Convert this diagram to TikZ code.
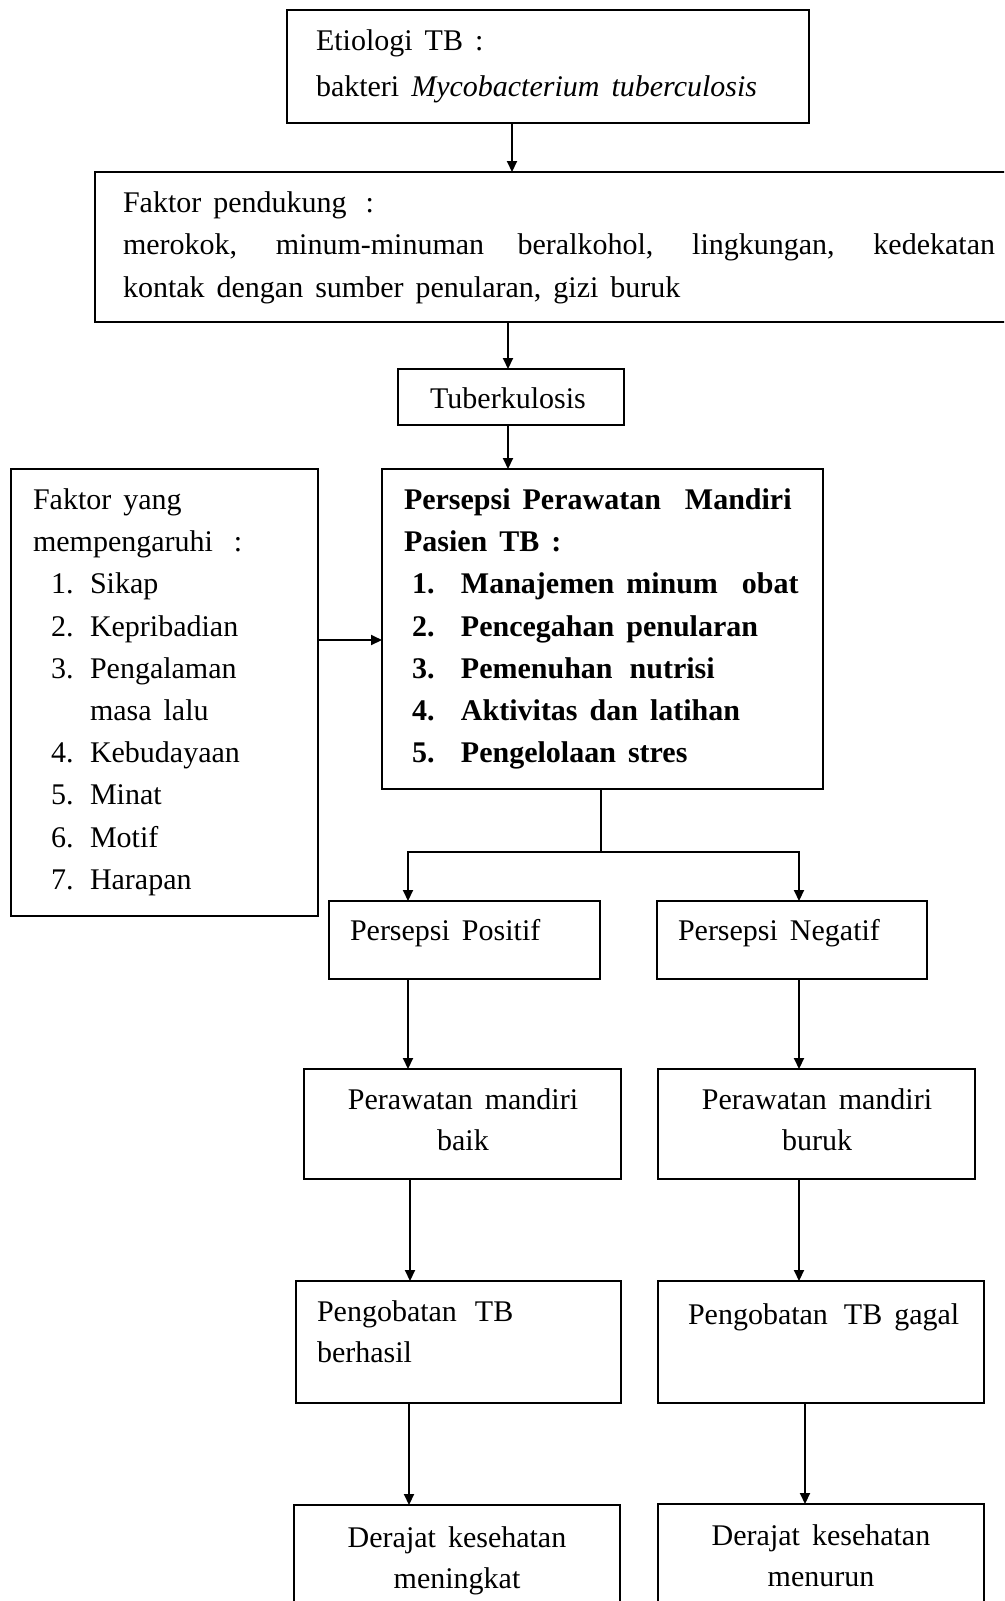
\documentclass[tikz,border=0pt]{standalone}
\usepackage{fontspec}
\setmainfont{Liberation Serif}[WordSpace=1.6]
\usetikzlibrary{arrows.meta}
\begin{document}
\begin{tikzpicture}[x=1pt,y=-1pt,
  box/.style={draw,line width=2pt,inner sep=0pt,outer sep=0pt,anchor=north west},
  txt/.style={inner sep=0pt,outer sep=0pt,anchor=base west,font=\fontsize{30}{42}\selectfont},
  ctxt/.style={txt,anchor=base},
  btxt/.style={txt,font=\fontsize{30}{42}\selectfont\bfseries},
  arr/.style={line width=2pt,-{Triangle[length=11pt,width=10pt]}},
  ln/.style={line width=2pt}]
\useasboundingbox (0,0) rectangle (1004,1601);
\clip (0,0) rectangle (1004,1601);
\fill[white] (0,0) rectangle (1004,1601);

% boxes
\node[box,minimum width=522pt,minimum height=113pt] (etio) at (287,10) {};
\node[box,minimum width=925pt,minimum height=150pt] (fp) at (95,172) {};
\node[box,minimum width=226pt,minimum height=56pt] (tb) at (398,369) {};
\node[box,minimum width=307pt,minimum height=447pt] (fy) at (11,469) {};
\node[box,minimum width=441pt,minimum height=320pt] (ps) at (382,469) {};
\node[box,minimum width=271pt,minimum height=78pt] (pos) at (329,901) {};
\node[box,minimum width=270pt,minimum height=78pt] (neg) at (657,901) {};
\node[box,minimum width=317pt,minimum height=110pt] (pmb) at (304,1069) {};
\node[box,minimum width=317pt,minimum height=110pt] (pmk) at (658,1069) {};
\node[box,minimum width=325pt,minimum height=122pt] (pgb) at (296,1281) {};
\node[box,minimum width=326pt,minimum height=122pt] (pgg) at (658,1281) {};
\node[box,minimum width=326pt,minimum height=130pt] (dkm) at (294,1505) {};
\node[box,minimum width=326pt,minimum height=130pt] (dkn) at (658,1504) {};

% texts
\node[txt] (e1) at (316,50) {Etiologi TB :};
\node[txt] (e2) at (316,96) {bakteri \textit{Mycobacterium tuberculosis}};
\node[txt] (f1) at (123,212) {Faktor pendukung\hspace{19pt}:};
\node[txt] (f2) at (123,254) {\makebox[872pt][s]{merokok, minum-minuman beralkohol, lingkungan, kedekatan}};
\node[txt] (f3) at (123,297) {kontak dengan sumber penularan, gizi buruk};
\node[ctxt] (t1) at (508,408) {Tuberkulosis};

\node[txt] (l1) at (33,509) {Faktor yang};
\node[txt] (l2) at (33,551) {mempengaruhi\hspace{21pt}:};
\node[txt] (l3) at (51,593) {\makebox[39pt][l]{1.}Sikap};
\node[txt] (l4) at (51,636) {\makebox[39pt][l]{2.}Kepribadian};
\node[txt] (l5) at (51,678) {\makebox[39pt][l]{3.}Pengalaman};
\node[txt] (l6) at (90,720) {masa lalu};
\node[txt] (l7) at (51,762) {\makebox[39pt][l]{4.}Kebudayaan};
\node[txt] (l8) at (51,804) {\makebox[39pt][l]{5.}Minat};
\node[txt] (l9) at (51,847) {\makebox[39pt][l]{6.}Motif};
\node[txt] (l10) at (51,889) {\makebox[39pt][l]{7.}Harapan};

\node[btxt] (p1) at (404,509) {Persepsi Perawatan\ \ Mandiri};
\node[btxt] (p2) at (404,551) {Pasien TB :};
\node[btxt] (p3) at (412,593) {\makebox[49pt][l]{1.}Manajemen minum\ \ obat};
\node[btxt] (p4) at (412,636) {\makebox[49pt][l]{2.}Pencegahan penularan};
\node[btxt] (p5) at (412,678) {\makebox[49pt][l]{3.}Pemenuhan\hspace{17pt}nutrisi};
\node[btxt] (p6) at (412,720) {\makebox[49pt][l]{4.}Aktivitas dan latihan};
\node[btxt] (p7) at (412,762) {\makebox[49pt][l]{5.}Pengelolaan stres};

\node[txt] (q1) at (350,940) {Persepsi Positif};
\node[txt] (q2) at (678,940) {Persepsi Negatif};

\node[ctxt] (r1) at (463,1109) {Perawatan mandiri};
\node[ctxt] (r2) at (463,1150) {baik};
\node[ctxt] (r3) at (817,1109) {Perawatan mandiri};
\node[ctxt] (r4) at (817,1150) {buruk};

\node[txt] (s1) at (317,1321) {Pengobatan\hspace{18pt}TB};
\node[txt] (s2) at (317,1362) {berhasil};
\node[txt] (s3) at (688,1324) {Pengobatan\hspace{16pt}TB gagal};

\node[ctxt] (d1) at (457,1547) {Derajat kesehatan};
\node[ctxt] (d2) at (457,1588) {meningkat};
\node[ctxt] (d3) at (821,1545) {Derajat kesehatan};
\node[ctxt] (d4) at (821,1586) {menurun};

% connector x positions
\coordinate (xa) at (512,0);
\coordinate (xb) at (508,0);
\coordinate (xl) at (408,0);
\coordinate (xr) at (799,0);
\coordinate (xl2) at (410,0);
\coordinate (xl3) at (409,0);
\coordinate (xr3) at (805,0);
\coordinate (ya) at (0,640);
\coordinate (j) at (601,852);

% connectors
\draw[arr] (etio.south -| xa) -- (fp.north -| xa);
\draw[arr] (fp.south -| xb) -- (tb.north -| xb);
\draw[arr] (tb.south -| xb) -- (ps.north -| xb);
\draw[arr] (fy.east |- ya) -- (ps.west |- ya);
\draw[ln] (ps.south -| j) -- (j);
\draw[arr] (j) -| (pos.north -| xl);
\draw[arr] (j) -| (neg.north -| xr);
\draw[arr] (pos.south -| xl) -- (pmb.north -| xl);
\draw[arr] (neg.south -| xr) -- (pmk.north -| xr);
\draw[arr] (pmb.south -| xl2) -- (pgb.north -| xl2);
\draw[arr] (pmk.south -| xr) -- (pgg.north -| xr);
\draw[arr] (pgb.south -| xl3) -- (dkm.north -| xl3);
\draw[arr] (pgg.south -| xr3) -- (dkn.north -| xr3);
\end{tikzpicture}
\end{document}
